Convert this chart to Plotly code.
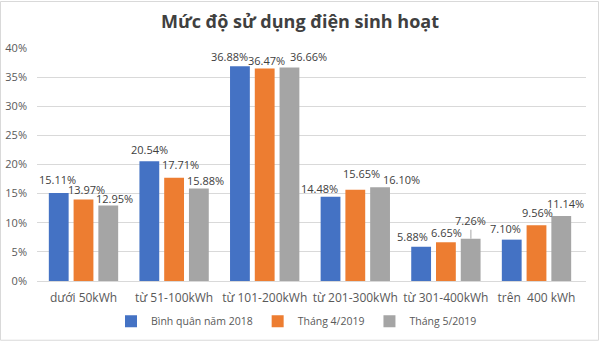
import plotly.graph_objects as go

categories = ["dưới 50kWh", "từ 51-100kWh", "từ 101-200kWh", "từ 201-300kWh", "từ 301-400kWh", "trên  400 kWh"]
series_names = ["Bình quân năm 2018", "Tháng 4/2019", "Tháng 5/2019"]
binh_quan_2018 = [15.11, 20.54, 36.88, 14.48, 5.88, 7.10]
thang_4_2019 = [13.97, 17.71, 36.47, 15.65, 6.65, 9.56]
thang_5_2019 = [12.95, 15.88, 36.66, 16.10, 7.26, 11.14]
colors = ["#4472C4", "#ED7D31", "#A5A5A5"]

# label placement tweaks (pixels) mimicking Excel's auto-placement
series_px = [-25, 0, 25]
label_dx = [[-1, 0, -10, -11, -8, -6],
            [3, 6, 2, 6, 1, 1],
            [6, 6, 19, 21, 0, 4]]
label_dy = [[13, 12, 10, 8, 10, 11],
            [10, 13, 8, 16, 10, 13],
            [7, 8, 11, 8, 18, 13]]

L, R, T, B = 37, 14, 48, 62
W, H = 600, 348
pw, ph = W - L - R, H - T - B

fig = go.Figure()
all_vals = [binh_quan_2018, thang_4_2019, thang_5_2019]
for name, vals, col in zip(series_names, all_vals, colors):
    fig.add_trace(go.Bar(
        x=categories, y=vals, name=name,
        marker=dict(color=col, line=dict(width=0)),
    ))

annotations = []
for s, vals in enumerate(all_vals):
    for i, (cat, v) in enumerate(zip(categories, vals)):
        leader = (s == 2 and i == 4)
        ann = dict(x=cat, y=v, xref="x", yref="y", text=f"{v:.2f}%",
                   font=dict(size=11, color="#404040", family="Open Sans"))
        if leader:
            ann.update(showarrow=True, arrowhead=0, arrowwidth=1, arrowcolor="#A6A6A6",
                       ax=label_dx[s][i], ay=-label_dy[s][i],
                       xshift=series_px[s], standoff=0, yanchor="middle")
        else:
            ann.update(showarrow=False, xshift=series_px[s] + label_dx[s][i],
                       yshift=label_dy[s][i], yanchor="middle", xanchor="center")
        annotations.append(ann)

fig.update_layout(
    width=W, height=H,
    margin=dict(l=L, r=R, t=T, b=B),
    paper_bgcolor="white", plot_bgcolor="white",
    barmode="group", bargap=0.18, bargroupgap=0.2,
    title=dict(text="<b>Mức độ sử dụng điện sinh hoạt</b>", x=0.5, xanchor="center",
               y=1 - 22/H, yanchor="middle",
               font=dict(size=18, color="#404040", family="Open Sans")),
    font=dict(family="Open Sans", color="#595959"),
    yaxis=dict(range=[0, 40], dtick=5, ticksuffix="%", showgrid=True, gridcolor="#D9D9D9",
               gridwidth=1, zeroline=False, showline=False, tickfont=dict(size=11, color="#595959"),
               ticklabelstandoff=9, automargin=False),
    xaxis=dict(showline=True, linecolor="#D9D9D9", tickfont=dict(size=12, color="#595959"),
               ticks="", ticklabelstandoff=6, automargin=False),
    legend=dict(orientation="h", x=0.5 - 15/pw, xanchor="center", y=-41/ph, yanchor="middle",
                font=dict(size=10.5, color="#595959"), itemwidth=30, traceorder="normal",
                tracegroupgap=0),
    annotations=annotations,
    shapes=[dict(type="rect", xref="paper", yref="paper", x0=-(L - 0.5)/pw, x1=1 + (R - 1.5)/pw,
                 y0=-(B - 1.5)/ph, y1=1 + (T - 0.5)/ph, line=dict(color="#D9D9D9", width=1))],
)

fig.write_html("out.html")
